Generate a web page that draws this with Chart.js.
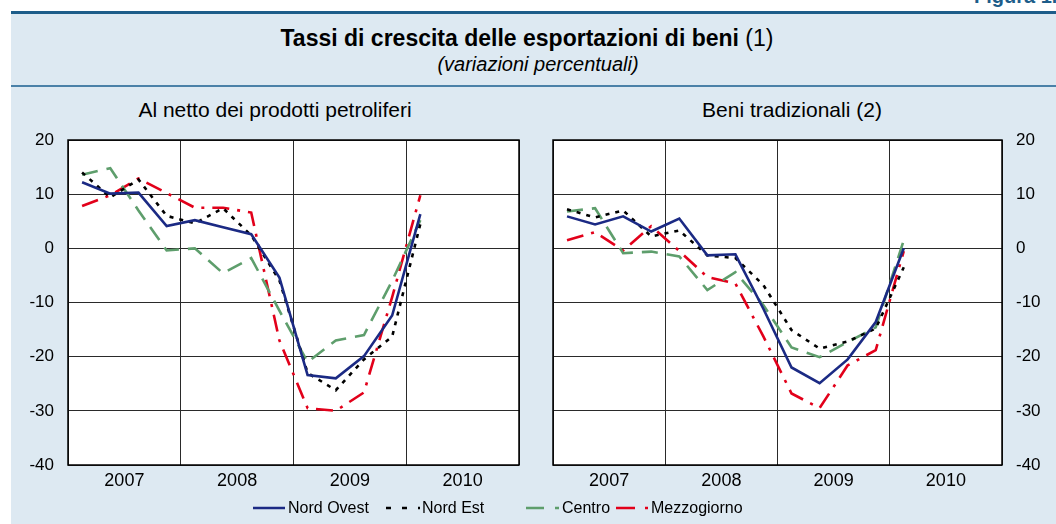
<!DOCTYPE html>
<html>
<head>
<meta charset="utf-8">
<script src="https://cdn.jsdelivr.net/npm/chart.js@4/dist/chart.umd.min.js"></script>
<style>
  html, body { margin:0; padding:0; background:#ffffff; }
  body { width:1056px; height:524px; position:relative; overflow:hidden; font-family:"Liberation Sans", Arial, Helvetica, sans-serif; color:#000; }
  #panel { position:absolute; left:11px; top:11px; width:1045px; height:513px; background:#dde9f2; border-top:3px solid #1d5d8a; box-sizing:border-box; }
  #sep { position:absolute; left:11px; top:85px; width:1045px; height:0; border-top:2px solid #4a81a8; }
  .txt { position:absolute; white-space:nowrap; transform:translate(-50%,-50%); }
  #fig { position:absolute; left:974px; top:-15px; font-size:20px; font-weight:bold; color:#1d5d8a; white-space:nowrap; }
  canvas { position:absolute; }
  .leg { position:absolute; top:498px; font-size:16px; line-height:20px; white-space:nowrap; }
  svg { position:absolute; left:0; top:0; }
</style>
</head>
<body>
<div id="fig">Figura 1.</div>
<div id="panel"></div>
<div id="sep"></div>
<div class="txt" style="left:527px; top:38px; font-size:23px;"><b>Tassi di crescita delle esportazioni di beni</b> (1)</div>
<div class="txt" style="left:538px; top:64px; font-size:20px; font-style:italic;">(variazioni percentuali)</div>
<div class="txt" style="left:275px; top:110px; font-size:21px;">Al netto dei prodotti petroliferi</div>
<div class="txt" style="left:792px; top:110px; font-size:21px;">Beni tradizionali (2)</div>

<canvas id="c1" width="530" height="360" style="left:0px; top:130px;"></canvas>
<canvas id="c2" width="516" height="360" style="left:540px; top:130px;"></canvas>

<svg width="1056" height="524">
  <line x1="253" y1="508" x2="285" y2="508" stroke="#1b2a84" stroke-width="2.5"/>
  <line x1="386" y1="508" x2="420" y2="508" stroke="#000" stroke-width="2.5" stroke-dasharray="5,11"/>
  <line x1="526" y1="508" x2="560" y2="508" stroke="#5e9e6c" stroke-width="2.5" stroke-dasharray="18,11,4,20"/>
  <line x1="616" y1="508" x2="650" y2="508" stroke="#e2001a" stroke-width="2.5" stroke-dasharray="19,10,3,20"/>
</svg>
<div class="leg" style="left:288px;">Nord Ovest</div>
<div class="leg" style="left:422px;">Nord Est</div>
<div class="leg" style="left:562px;">Centro</div>
<div class="leg" style="left:651px;">Mezzogiorno</div>

<script>
// Quarters 2007 T1 .. 2010 T1
const quarters = ['2007 T1','2007 T2','2007 T3','2007 T4','2008 T1','2008 T2','2008 T3','2008 T4','2009 T1','2009 T2','2009 T3','2009 T4','2010 T1'];
const years = ['2007','2008','2009','2010'];
const yTicks = [20, 10, 0, -10, -20, -30, -40];

// Al netto dei prodotti petroliferi
const nordOvestA   = [12.2, 10.1, 10.3, 4.1, 5.2, 3.9, 2.6, -5.4, -23.4, -24.0, -19.9, -12.4, 6.3];
const nordEstA     = [14.0, 9.4, 12.7, 6.0, 4.6, 7.4, 2.4, -5.9, -23.0, -26.2, -20.5, -16.3, 4.5];
const centroA      = [13.6, 14.8, 7.0, -0.4, 0.0, -4.6, -1.8, -11.5, -21.0, -17.0, -16.0, -6.0, 5.2];
const mezzogiornoA = [7.8, 9.8, 12.9, 10.2, 7.5, 7.5, 6.6, -17.0, -29.5, -30.0, -26.6, -9.0, 9.8];

// Beni tradizionali
const nordOvestB   = [5.9, 4.4, 5.9, 3.1, 5.5, -1.3, -1.1, -11.2, -22.0, -24.9, -20.5, -13.6, 0.0];
const nordEstB     = [7.2, 5.7, 7.0, 2.2, 3.3, -1.3, -1.8, -6.8, -15.1, -18.5, -17.2, -14.8, -3.5];
const centroB      = [6.8, 7.4, -0.9, -0.6, -1.5, -7.7, -4.4, -10.5, -18.3, -20.1, -17.3, -14.6, 1.5];
const mezzogiornoB = [1.5, 3.0, -0.4, 4.1, -0.5, -5.3, -6.5, -16.3, -26.8, -29.5, -21.6, -18.8, -0.5];

const FONT = '"Liberation Sans", Arial, Helvetica, sans-serif';
const GRID = '#2a2a2a';

function pts(arr) { return arr.map((v, i) => ({ x: i + 0.5, y: v })); }

function makeDatasets(no, ne, ce, mz) {
  return [
    { label:'Nord Ovest', data: pts(no), borderColor:'#1b2a84', borderWidth:2.6, pointRadius:0, tension:0 },
    { label:'Nord Est', data: pts(ne), borderColor:'#000000', borderWidth:2.6, borderDash:[4,6], pointRadius:0, tension:0 },
    { label:'Centro', data: pts(ce), borderColor:'#5e9e6c', borderWidth:2.6, borderDash:[16,9], pointRadius:0, tension:0 },
    { label:'Mezzogiorno', data: pts(mz), borderColor:'#e2001a', borderWidth:2.6, borderDash:[17,8,3,8], pointRadius:0, tension:0 }
  ];
}

const framePlugin = {
  id: 'frame',
  beforeDraw(chart) {
    const a = chart.chartArea, c = chart.ctx;
    c.save(); c.fillStyle = '#ffffff'; c.fillRect(a.left, a.top, a.right - a.left, a.bottom - a.top); c.restore();
  },
  afterDraw(chart) {
    const a = chart.chartArea, c = chart.ctx;
    c.save(); c.strokeStyle = '#000'; c.lineWidth = 1.5;
    c.strokeRect(a.left, a.top, a.right - a.left, a.bottom - a.top); c.restore();
  }
};

function makeChart(id, datasets, yPos, yWidth, padding) {
  return new Chart(document.getElementById(id), {
    type: 'line',
    data: { datasets },
    plugins: [framePlugin],
    options: {
      responsive: false,
      devicePixelRatio: 1,
      animation: false,
      layout: { padding },
      plugins: { legend: { display:false }, tooltip: { enabled:false } },
      scales: {
        x: {
          type: 'linear', min: 0, max: 16,
          afterBuildTicks(scale) { scale.ticks = [0,2,4,6,8,10,12,14,16].map(v => ({ value: v })); },
          afterFit(scale) { scale.height = 25; scale.paddingLeft = 0; scale.paddingRight = 0; },
          grid: { color: ctx => (ctx.tick && ctx.tick.value % 4 === 0) ? GRID : 'rgba(0,0,0,0)', lineWidth: 1, drawTicks: false },
          border: { display: false },
          ticks: {
            autoSkip: false, maxRotation: 0, padding: 5, color: '#000',
            font: { family: FONT, size: 18 },
            callback: v => (v % 4 === 2) ? years[(v - 2) / 4] : ''
          }
        },
        y: {
          position: yPos, min: -40, max: 20,
          afterBuildTicks(scale) { scale.ticks = yTicks.slice().reverse().map(v => ({ value: v })); },
          afterFit(scale) { scale.width = yWidth; scale.paddingTop = 0; scale.paddingBottom = 0; },
          grid: { color: GRID, lineWidth: 1, drawTicks: false },
          border: { display: false },
          ticks: { padding: 14, color: '#000', font: { family: FONT, size: 17 } }
        }
      }
    }
  });
}

makeChart('c1', makeDatasets(nordOvestA, nordEstA, centroA, mezzogiornoA), 'left', 68, { top:10, right:11, left:0, bottom:0 });
makeChart('c2', makeDatasets(nordOvestB, nordEstB, centroB, mezzogiornoB), 'right', 54, { top:10, right:0, left:13, bottom:0 });
</script>
</body>
</html>
